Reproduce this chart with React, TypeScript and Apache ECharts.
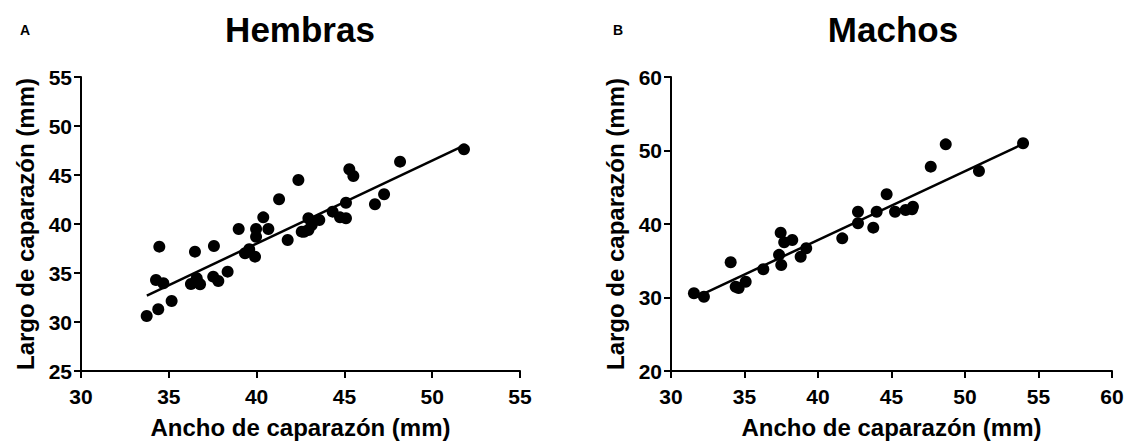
import React, { useEffect, useRef } from "react";
import * as echarts from "echarts";

const FONT = "'Liberation Sans', Arial, sans-serif";

// Hembras (A)
const hembrasX = [33.74, 34.4, 35.16, 34.46, 34.27, 34.69, 36.26, 36.59, 36.78, 36.49, 37.57, 37.53, 37.82, 38.35, 38.98, 39.34, 39.58, 39.91, 39.97, 39.97, 40.38, 40.67, 41.28, 41.77, 42.38, 42.57, 42.95, 42.95, 43.14, 43.57, 44.33, 44.75, 45.09, 45.09, 45.28, 45.51, 46.74, 47.26, 48.17, 51.81, 42.7];
const hembrasY = [30.61, 31.3, 32.14, 37.69, 34.29, 33.95, 33.88, 34.46, 33.85, 37.18, 37.76, 34.63, 34.18, 35.14, 39.49, 37.01, 37.42, 36.67, 39.49, 38.7, 40.68, 39.49, 42.52, 38.37, 44.49, 39.22, 40.58, 39.39, 39.9, 40.41, 41.26, 40.68, 42.17, 40.58, 45.58, 44.9, 42.01, 43.03, 46.36, 47.62, 39.2];
const hembrasLineX = [33.75, 51.8];
const hembrasLineY = [32.7, 48.0];

// Machos (B)
const machosX = [31.56, 32.24, 34.06, 34.4, 35.08, 36.28, 37.46, 37.7, 38.25, 37.35, 37.5, 38.82, 39.2, 41.65, 42.72, 42.72, 43.76, 43.99, 44.67, 45.24, 45.96, 46.46, 46.4, 47.67, 48.69, 50.95, 53.95, 34.6];
const machosY = [30.57, 30.1, 34.8, 31.47, 32.15, 33.84, 38.82, 37.5, 37.82, 35.8, 34.42, 35.55, 36.7, 38.05, 41.67, 40.1, 39.5, 41.67, 44.04, 41.67, 41.9, 42.36, 42.0, 47.8, 50.84, 47.21, 50.98, 31.3];
const machosLineX = [32.3, 53.95];
const machosLineY = [30.6, 50.9];

const xTitle = "Ancho de caparazón (mm)";
const yTitle = "Largo de caparazón (mm)";

const zip = (xs: number[], ys: number[]) => xs.map((x, i) => [x, ys[i]]);

const axisCommon = {
  type: "value" as const,
  nameLocation: "middle" as const,
  nameTextStyle: { fontFamily: FONT, fontWeight: "bold", fontSize: 24, color: "#000" },
  axisLine: { show: true, onZero: false, lineStyle: { color: "#000", width: 2 } },
  axisTick: { show: true, inside: false, length: 7, lineStyle: { color: "#000", width: 2 } },
  splitLine: { show: false },
};

export default function App() {
  const ref = useRef<HTMLDivElement>(null);
  useEffect(() => {
    if (!ref.current) return;
    const chart = echarts.init(ref.current, undefined, { renderer: "svg" });
    const xLabel = { fontFamily: FONT, fontWeight: "bold", fontSize: 21, color: "#000", margin: 15 };
    const yLabel = { fontFamily: FONT, fontWeight: "bold", fontSize: 21, color: "#000", margin: 9 };
    chart.setOption({
      animation: false,
      backgroundColor: "#fff",
      graphic: [
        { type: "text", x: 25, y: 30, style: { text: "A", font: `bold 14px ${FONT}`, fill: "#000", textAlign: "center", textVerticalAlign: "middle" } },
        { type: "text", x: 300, y: 29, style: { text: "Hembras", font: `bold 35px ${FONT}`, fill: "#000", textAlign: "center", textVerticalAlign: "middle" } },
        { type: "text", x: 618, y: 30, style: { text: "B", font: `bold 14px ${FONT}`, fill: "#000", textAlign: "center", textVerticalAlign: "middle" } },
        { type: "text", x: 893, y: 29, style: { text: "Machos", font: `bold 35px ${FONT}`, fill: "#000", textAlign: "center", textVerticalAlign: "middle" } },
      ],
      grid: [
        { left: 81, top: 77, width: 439, height: 294, containLabel: false },
        { left: 671, top: 77, width: 441, height: 294, containLabel: false },
      ],
      xAxis: [
        { ...axisCommon, gridIndex: 0, min: 30, max: 55, interval: 5, name: xTitle, nameGap: 44, axisLabel: xLabel },
        { ...axisCommon, gridIndex: 1, min: 30, max: 60, interval: 5, name: xTitle, nameGap: 44, axisLabel: xLabel },
      ],
      yAxis: [
        { ...axisCommon, gridIndex: 0, min: 25, max: 55, interval: 5, name: yTitle, nameGap: 44, axisLabel: yLabel },
        { ...axisCommon, gridIndex: 1, min: 20, max: 60, interval: 10, name: yTitle, nameGap: 44, axisLabel: yLabel },
      ],
      series: [
        { type: "line", xAxisIndex: 0, yAxisIndex: 0, data: zip(hembrasLineX, hembrasLineY), symbol: "none", lineStyle: { color: "#000", width: 2.5 } },
        { type: "scatter", xAxisIndex: 0, yAxisIndex: 0, data: zip(hembrasX, hembrasY), symbolSize: 12, itemStyle: { color: "#000", opacity: 1 } },
        { type: "line", xAxisIndex: 1, yAxisIndex: 1, data: zip(machosLineX, machosLineY), symbol: "none", lineStyle: { color: "#000", width: 2.5 } },
        { type: "scatter", xAxisIndex: 1, yAxisIndex: 1, data: zip(machosX, machosY), symbolSize: 12, itemStyle: { color: "#000", opacity: 1 } },
      ],
    });
    return () => chart.dispose();
  }, []);
  return <div ref={ref} style={{ position: "absolute", left: 0, top: 0, width: 1127, height: 444 }} />;
}
